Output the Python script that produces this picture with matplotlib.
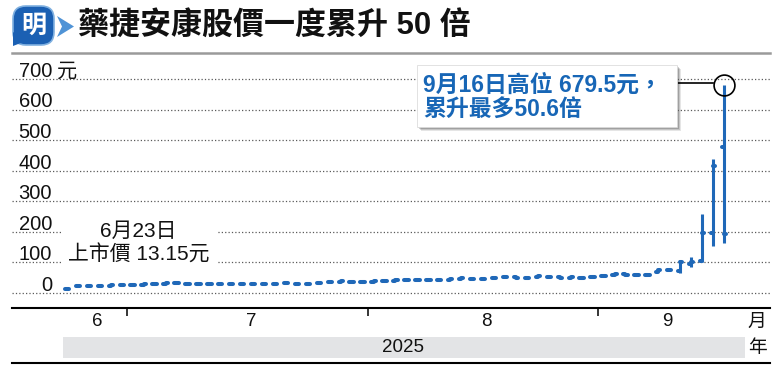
import matplotlib
matplotlib.use("Agg")
import matplotlib.pyplot as plt
import matplotlib.transforms as mtransforms
from matplotlib.patches import FancyBboxPatch, Rectangle, Polygon
from matplotlib.collections import LineCollection

# ---------------- data ----------------
dates = ["06-23", "06-24", "06-25", "06-26", "06-27", "06-30",
         "07-02", "07-03", "07-04", "07-07", "07-08", "07-09", "07-10", "07-11",
         "07-14", "07-15", "07-16", "07-17", "07-18", "07-21", "07-22", "07-23",
         "07-24", "07-25", "07-28", "07-29", "07-30", "07-31",
         "08-01", "08-04", "08-05", "08-06", "08-07", "08-08", "08-11", "08-12",
         "08-13", "08-14", "08-15", "08-18", "08-19", "08-20", "08-21", "08-22",
         "08-25", "08-26", "08-27", "08-28", "08-29",
         "09-01", "09-02", "09-03", "09-04", "09-05", "09-08", "09-09", "09-10",
         "09-11", "09-12", "09-15", "09-16"]
opens = [13.15, 22, 23.5, 24, 24.5, 25.5, 26.5, 27.5, 28, 31,
         33, 31, 29.5, 29, 29, 29, 29.5, 30.5, 31, 31,
         31.5, 30, 29, 32, 36, 37.5, 37.5, 37, 37.5, 38.5,
         40, 41.5, 41.5, 41, 41, 44, 47, 47, 45.5, 48,
         51, 51, 50, 53, 53, 51, 50.5, 49, 51, 55,
         60, 61, 59, 59, 70, 75, 72, 96, 106, 196, 477]
highs = [15, 24, 25, 25, 26, 27, 28, 29, 29, 33,
         34, 32, 30, 30, 30, 30, 31, 32, 32, 32,
         33, 31, 30, 34, 38, 39, 39, 38, 39, 40,
         42, 43, 43, 42, 42, 46, 49, 48, 47, 50,
         53, 52, 51, 56, 54, 52, 52, 50, 54, 58,
         63, 62, 60, 61, 76, 77, 108, 119, 258, 438, 679.5]
lows = [12.5, 21, 23, 23, 24, 25, 26, 27, 27, 30,
        32, 29, 28, 28, 28, 28, 29, 30, 30, 30,
        31, 28, 28, 31, 35, 37, 36, 36, 37, 38,
        39, 41, 40, 40, 40, 43, 46, 45, 44, 47,
        50, 49, 49, 52, 51, 49, 49, 47, 50, 54,
        59, 59, 57, 58, 68, 72, 66, 86, 102, 155, 162]
closes = [14, 23, 24, 24, 25, 26, 27, 28, 28, 32,
          33, 30, 29, 29, 29, 29, 30, 31, 31, 31,
          32, 29, 29, 33, 37, 38, 37, 37, 38, 39,
          41, 42, 41, 41, 41, 45, 48, 46, 45, 49,
          52, 50, 50, 55, 52, 50, 51, 48, 53, 57,
          62, 60, 58, 60, 74, 74, 100, 103, 195, 415, 193]

y_ticks = [0, 100, 200, 300, 400, 500, 600, 700]
y_unit = "元"
month_names = ["6", "7", "8", "9"]
year_label = "2025"
title = "藥捷安康股價一度累升 50 倍"
ipo_note = ["6月23日", "上市價 13.15元"]
peak_note = ["9月16日高位 679.5元，", "累升最多50.6倍"]

# ---------------- style ----------------
BLUE = "#1f68b8"
TXTBLUE = "#1766b6"
CJK = ["Liberation Sans", "Noto Sans CJK TC", "DejaVu Sans"]
plt.rcParams["font.family"] = CJK

W, H = 780, 376
fig = plt.figure(figsize=(W / 100, H / 100), dpi=100)


def fx(px):
    return px / W


def fy(py):
    return 1 - py / H


ax = fig.add_axes([fx(12), fy(308), fx(770) - fx(12), fy(53) - fy(308)])
ax.set_xlim(-5.02, 64.2)
ax.set_ylim(-49.1, 785.1)

for s in ["left", "right"]:
    ax.spines[s].set_visible(False)
ax.spines["bottom"].set_color("black")
ax.spines["bottom"].set_linewidth(1.5)
ax.spines["top"].set_color("#9a9a9a")
ax.spines["top"].set_linewidth(1.8)

# gridlines
for v in y_ticks:
    ax.axhline(v, color="#5a5a5a", lw=0.9, ls=(0, (1, 1.7)), zorder=0)

# y labels
blend = mtransforms.blended_transform_factory(ax.transAxes, ax.transData)
lab_x = (52 - 12) / 758
for v in y_ticks:
    ax.text(lab_x, v + 7, f"{v}", transform=blend, ha="right", va="baseline",
            fontsize=14.5, color="#111111")
ax.text((57 - 12) / 758, y_ticks[-1] + 7, y_unit, transform=blend, ha="left",
        va="baseline", fontsize=14.5, color="#111111")

# month boundaries -> ticks
xs = list(range(len(dates)))
months = [d[:2] for d in dates]
bounds = [i - 0.5 for i in range(1, len(dates)) if months[i] != months[i - 1]]
ax.set_xticks(bounds)
ax.set_yticks([])
ax.tick_params(axis="x", direction="out", length=6, width=1.1, color="black",
               labelbottom=False)

# OHLC bars
h = 0.2
ax.vlines(xs, lows, highs, color=BLUE, lw=2.2, zorder=3)
segs = []
for i, o, c in zip(xs, opens, closes):
    segs.append([(i - h, o), (i, o)])
    segs.append([(i, c), (i + h, c)])
lc = LineCollection(segs, colors=BLUE, linewidths=2.9, capstyle="round", zorder=3)
ax.add_collection(lc)

# peak circle + connector
pk = highs.index(max(highs))
pv = highs[pk]
ax.plot(pk, pv, marker="o", ms=15, mfc="none", mec="black", mew=1.2, zorder=5,
        clip_on=False)
ax.plot([(677 - 67) / 10.95, pk - 0.97], [pv + 6, pv + 6], color="black",
        lw=1.2, zorder=5)

# month labels
tx = mtransforms.blended_transform_factory(ax.transData, fig.transFigure)
uniq = []
for m in months:
    if m not in uniq:
        uniq.append(m)
for name, m in zip(month_names, uniq):
    idx = [i for i in xs if months[i] == m]
    ax.text(sum(idx) / len(idx) + 0.3, fy(322), name, transform=tx, ha="center",
            va="center", fontsize=13.5, color="#111111")

# ---------------- decorations (pixel overlay) ----------------
deco = fig.add_axes([0, 0, 1, 1])
deco.set_xlim(0, W)
deco.set_ylim(H, 0)
deco.axis("off")
deco.patch.set_visible(False)

# logo
deco.add_patch(FancyBboxPatch((13, 6), 41, 39, boxstyle="round,pad=0,rounding_size=13",
                              fc="#1b60b3", ec="#7fb0e0", lw=1.2))
deco.add_patch(Polygon([(13, 32), (13, 46), (26, 41)], closed=True, fc="#1b60b3",
                       ec="none"))
deco.text(33.5, 25.5, "明", fontsize=18, fontweight="bold", color="white",
          ha="center", va="center", family=["Noto Sans CJK TC"])
deco.add_patch(Polygon([(57, 16), (74, 26.5), (57, 37), (62, 26.5)], closed=True,
                       fc="#4f93d6", ec="none"))

# title
deco.text(78, 26, title, fontsize=22.3, fontweight="bold", color="#111111",
          ha="left", va="center")

# IPO note
deco.add_patch(Rectangle((62, 214), 156, 54, fc="white", ec="none"))
deco.text(138, 231, ipo_note[0], fontsize=15, ha="center", va="center",
          color="#111111")
deco.text(139, 255, ipo_note[1], fontsize=15, ha="center", va="center",
          color="#111111")

# peak note box with shadow
for k, a in [(5, 0.10), (4, 0.14), (3, 0.18), (2, 0.22)]:
    deco.add_patch(Rectangle((417 + k - 1, 65 + k - 1), 260, 62, fc="black",
                             alpha=a, ec="none"))
deco.add_patch(Rectangle((417, 65), 260, 62, fc="white", ec="#dddddd", lw=0.6))
deco.text(423, 85, peak_note[0], fontsize=16.5, fontweight="bold",
          color=TXTBLUE, ha="left", va="center")
deco.text(423, 109, peak_note[1], fontsize=16.5, fontweight="bold",
          color=TXTBLUE, ha="left", va="center")

# bottom: month unit, year band
deco.text(757, 322, "月", fontsize=13.5, ha="center", va="center", color="#111111")
deco.add_patch(Rectangle((63, 337), 682, 21, fc="#e3e4e6", ec="none"))
deco.text(403, 348, year_label, fontsize=13.5, ha="center", va="center",
          color="#111111")
deco.text(757, 348, "年", fontsize=13.5, ha="center", va="center", color="#111111")
deco.plot([12, 770], [363, 363], color="black", lw=1.5)

fig.savefig("out.png", dpi=100)
